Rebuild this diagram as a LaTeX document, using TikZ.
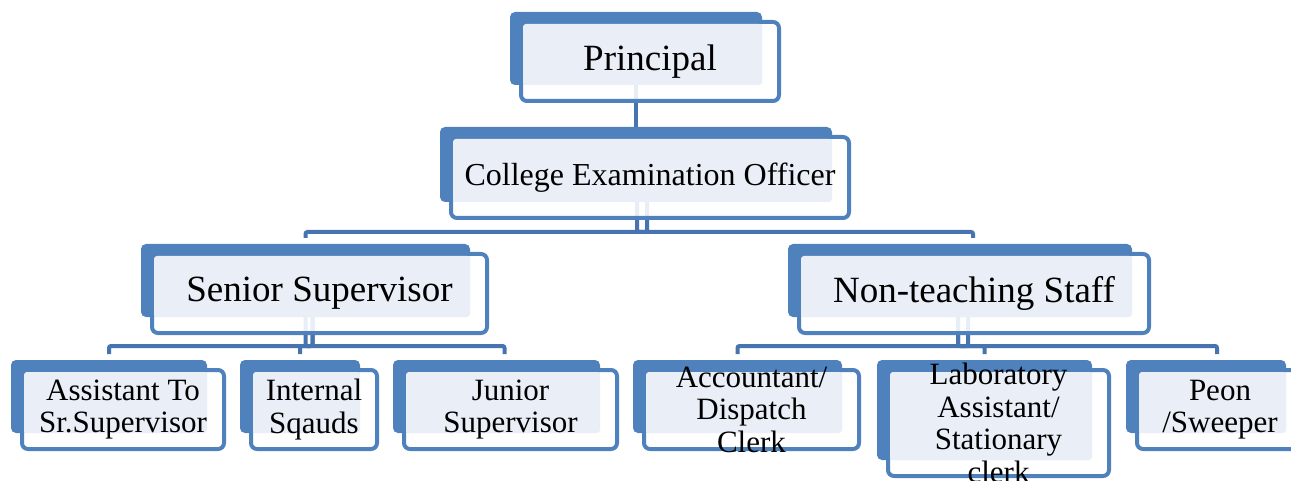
\documentclass[tikz,border=0pt]{standalone}
\usepackage{fontspec}
\setmainfont{Liberation Serif}
\pgfdeclarelayer{links}
\pgfsetlayers{links,main}
\definecolor{boxblue}{RGB}{79,129,189}
\definecolor{linkblue}{RGB}{70,116,176}
\definecolor{paleblue}{RGB}{234,239,247}
\tikzset{
  backbox/.style={fill=boxblue, rounded corners=5pt, inner sep=0pt, outer sep=0pt},
  framebox/.style={draw=boxblue, line width=4pt, fill=white, fill opacity=0.88,
    rounded corners=6pt, inner sep=0pt, outer sep=0pt},
  facebox/.style={fill=paleblue, rounded corners=3pt, inner sep=0pt, outer sep=0pt},
  boxtext/.style={align=center, inner sep=0pt, text=black},
  link/.style={draw=linkblue, line width=4pt, rounded corners=2pt},
  bigtext/.style={font=\fontsize{37}{40}\selectfont},
  midtext/.style={font=\fontsize{32}{35}\selectfont},
  smalltext/.style={font=\fontsize{31}{32.5}\selectfont},
}
% #1 name, #2-#5 corners of the blue backing plate (x1,y1,x2,y2), #6 text style, #7 text
\newcommand\orgbox[7]{%
  \node[backbox, minimum width={#4-#2}, minimum height={#5-#3}]
    (#1-b) at ({(#2+#4)/2},{(#3+#5)/2}) {};
  \node[framebox, minimum width={#4-#2+6}, minimum height={#5-#3+6}]
    (#1-o) at ({(#2+#4)/2+14},{(#3+#5)/2+13}) {};
  \node[facebox, minimum width={#4-#2-13}, minimum height={#5-#3-12}]
    at ({(#2+#4+13)/2},{(#3+#5+12)/2}) {};
  \node[boxtext, #6] (#1) at (#1-o.center) {#7};
}
\begin{document}
\begin{tikzpicture}[x=1pt, y=-1pt]
  \useasboundingbox (0,0) rectangle (1291,481);
  \clip (0,0) rectangle (1291,481);

  % boxes
  \orgbox{principal}{510}{12}{762}{85}{bigtext}{Principal}
  \orgbox{ceo}{440}{127}{832}{202}{midtext}{College Examination Officer}
  \orgbox{senior}{141}{244}{470}{317}{bigtext}{Senior Supervisor}
  \orgbox{staff}{788}{244}{1132}{317}{bigtext}{Non-teaching Staff}
  \orgbox{assistant}{11}{360}{207}{433}{smalltext}{Assistant To\\Sr.Supervisor}
  \orgbox{squads}{240}{360}{360}{433}{smalltext}{Internal\\Sqauds}
  \orgbox{junior}{393}{360}{600}{433}{smalltext}{Junior\\Supervisor}
  \orgbox{accountant}{633}{360}{842}{433}{smalltext}{Accountant/\\Dispatch\\Clerk}
  \orgbox{lab}{877}{360}{1092}{460}{smalltext}{Laboratory\\Assistant/\\Stationary\\clerk}
  \orgbox{peon}{1126}{360}{1286}{433}{smalltext}{Peon\\/Sweeper}

  % connectors, kept behind the boxes; the two drops of each parent cross
  % so that the shared bar runs unbroken
  \begin{pgfonlayer}{links}
    \fill[white] (0,0) rectangle (1291,481);
    \draw[link] (principal-b.south) -- (ceo-b.north);
    \draw[link] ([xshift=11pt]ceo-b.south) |- ([yshift=12pt]senior-b.north)
      -- ([yshift=6pt]senior-b.north);
    \draw[link] ([xshift=1pt]ceo-b.south) |- ([xshift=13pt,yshift=12pt]staff-b.north)
      -- ([xshift=13pt,yshift=6pt]staff-b.north);
    \draw[link] ([xshift=7pt]senior-b.south) |- ([yshift=14pt]assistant-b.north)
      -- ([yshift=6pt]assistant-b.north);
    \draw[link] ([xshift=7pt]senior-b.south) |- ([yshift=14pt]squads-b.north)
      -- ([yshift=6pt]squads-b.north);
    \draw[link] (senior-b.south) |- ([xshift=8pt,yshift=14pt]junior-b.north)
      -- ([xshift=8pt,yshift=6pt]junior-b.north);
    \draw[link] ([xshift=8pt]staff-b.south) |- ([yshift=14pt]accountant-b.north)
      -- ([yshift=6pt]accountant-b.north);
    \draw[link] ([xshift=-2pt]staff-b.south) |- ([yshift=14pt]lab-b.north)
      -- ([yshift=6pt]lab-b.north);
    \draw[link] ([xshift=-2pt]staff-b.south) |- ([xshift=11pt,yshift=14pt]peon-b.north)
      -- ([xshift=11pt,yshift=6pt]peon-b.north);
  \end{pgfonlayer}
\end{tikzpicture}
\end{document}
